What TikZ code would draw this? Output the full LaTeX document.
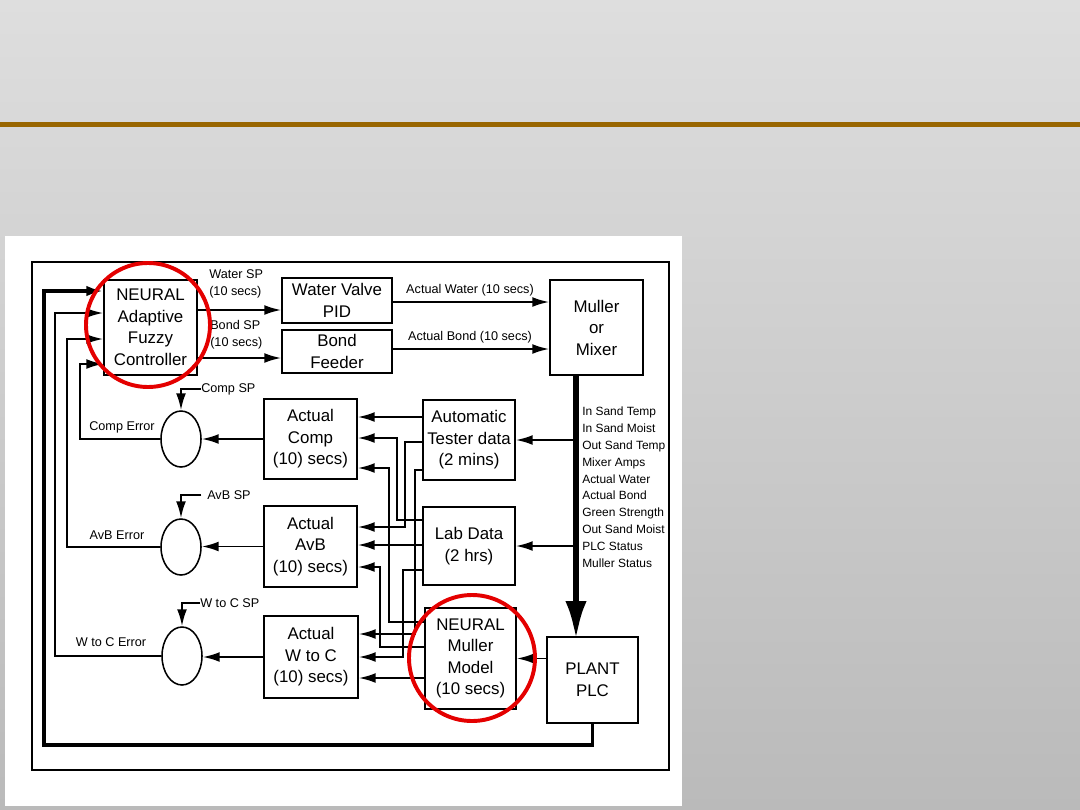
\documentclass[tikz,border=0pt]{standalone}
\usepackage{fontspec}
\setmainfont{Liberation Sans}
\usetikzlibrary{arrows.meta,shapes.geometric}

\definecolor{slidetop}{RGB}{222,222,222}
\definecolor{slidebot}{RGB}{186,186,186}
\definecolor{rulebrown}{RGB}{153,102,0}
\definecolor{ringred}{RGB}{228,0,0}

\begin{document}
\begin{tikzpicture}[x={(0.025cm,0cm)}, y={(0cm,-0.025cm)},
  blk/.style={draw, line width=1.1pt, align=center, inner sep=0pt,
    font=\fontsize{12}{15.3}\selectfont},
  sz/.style 2 args={minimum width=#1*\pxu, minimum height=#2*\pxu},
  sumpt/.style={draw, ellipse, line width=1.1pt, inner sep=0pt},
  lbl/.style={inner sep=0pt, font=\fontsize{9}{12}\selectfont},
  sig/.style={inner sep=0pt, align=left, font=\fontsize{8.5}{11.95}\selectfont},
  arr/.style={line width=1.4pt, -{Latex[length=12pt,width=7pt]}},
  fb/.style={line width=2.8pt, -{Latex[length=12pt,width=7.5pt]}},
  ring/.style={draw=ringred, line width=2.8pt}]

% Sizes in slide pixels
\def\pxu{0.025cm}

\useasboundingbox (0,0) rectangle (1080,810);

% Slide
\shade[top color=slidetop, bottom color=slidebot] (0,0) rectangle (1080,810);
\fill[rulebrown] (0,122) rectangle (1080,127);
\fill[white] (5,236) rectangle (682,806);
\draw[line width=1.1pt] (32,262) rectangle (669,770);

% Blocks
\node[blk, sz={93}{95}] (ctrl) at (150.5,327.5) {NEURAL\\Adaptive\\Fuzzy\\Controller};
\node[blk, sz={110}{45}] (valve) at (337,300.5) {Water Valve\\PID};
\node[blk, sz={110}{43}] (feeder) at (337,351.5) {Bond\\Feeder};
\node[blk, sz={93}{95}] (mixer) at (596.5,327.5) {Muller\\or\\Mixer};
\node[blk, sz={91}{86}] (plc) at (592.5,680) {PLANT\\PLC};
\node[blk, sz={92}{80}] (tester) at (469,440) {Automatic\\Tester data\\(2 mins)};
\node[blk, sz={92}{78}] (lab) at (469,546) {Lab Data\\(2 hrs)};
\node[blk, sz={91}{101}] (model) at (470.5,658.5) {NEURAL\\Muller\\Model\\(10 secs)};
\node[blk, sz={93}{80}] (comp) at (310.5,439) {Actual\\Comp\\(10) secs)};
\node[blk, sz={93}{81}] (avb) at (310.5,546.5) {Actual\\AvB\\(10) secs)};
\node[blk, sz={94}{82}] (wtoc) at (311,657) {Actual\\W to C\\(10) secs)};

% Comparators
\node[sumpt, sz={40}{56}] (ecomp) at (181,439) {};
\node[sumpt, sz={40}{56}] (eavb) at (181,547) {};
\node[sumpt, sz={40}{58}] (ewtoc) at (182,656) {};

% Set points
\draw[arr] (ctrl.east |- 0,310) -- (valve.west |- 0,310);
\draw[arr] (ctrl.east |- 0,358) -- (feeder.west |- 0,358);
\node[lbl, anchor=west, align=left] (wsp) at (209,284) {Water SP\\(10 secs)};
\node[lbl, anchor=west, align=left] (bsp) at (210,335) {Bond SP\\(10 secs)};

% Into the mixer
\draw[arr] (valve.east |- 0,302) -- (mixer.west |- 0,302);
\draw[arr] (feeder.east |- 0,349) -- (mixer.west |- 0,349);
\node[lbl] (awater) at (470,290) {Actual Water (10 secs)};
\node[lbl] (abond) at (470,337) {Actual Bond (10 secs)};

% Plant data bus
\coordinate (bus) at (576,0);
\draw[line width=4.5pt, -{Latex[length=28pt,width=15pt]}] (mixer.south -| bus) -- ([yshift=-3pt]plc.north -| bus);
\draw[arr] (tester.east -| bus) -- (tester.east);
\draw[arr] (lab.east -| bus) -- (lab.east);
\draw[arr] (plc.west |- model.east) -- (model.east);
\node[sig, anchor=north west] (signals) at (582,407)
  {In Sand Temp\\In Sand Moist\\Out Sand Temp\\Mixer Amps\\Actual Water\\
   Actual Bond\\Green Strength\\Out Sand Moist\\PLC Status\\Muller Status};

% Measured values to the actual blocks
\foreach \s/\d/\ya/\xm/\yb in {tester/comp/417/400/417, tester/avb/442/405/527,
    tester/wtoc/470/415/634, lab/comp/520/397/438, lab/avb/545/400/545,
    lab/wtoc/570/403/657, model/comp/622/389/468, model/avb/647/380/567,
    model/wtoc/678/400/678}
  \draw[arr] (\s.west |- 0,\ya) -| (\xm,\yb) -- (\d.east |- 0,\yb);

% Actual to comparators
\foreach \a/\e in {comp/ecomp, avb/eavb, wtoc/ewtoc}
  \draw[arr] (\a.west) -- (\a.west -| \e.east);

\node[lbl, anchor=west] (spcomp) at (201,389) {Comp SP};
\node[lbl, anchor=west] (spavb) at (207,495) {AvB SP};
\node[lbl, anchor=west] (spwtoc) at (200,603) {W to C SP};
\draw[arr] (spcomp.west) -| (ecomp.north);
\draw[arr] ([xshift=-4pt]spavb.west) -| (eavb.north);
\draw[arr] (spwtoc.west) -| (ewtoc.north);

% Errors back to the controller
\foreach \e/\xx/\yy in {ecomp/80/364, eavb/67/339, ewtoc/55/313}
  \draw[arr] (\e.west) -| (\xx,\yy) -- (ctrl.west |- 0,\yy);
\node[lbl] at (122,427) {Comp Error};
\node[lbl] at (117,535) {AvB Error};
\node[lbl] at (111,642) {W to C Error};

% PLC feedback
\draw[fb] (plc.south) |- (44,745) |- (ctrl.west |- 0,291);

% Highlights
\draw[ring] (148,325) circle[radius=62];
\draw[ring] (472,658) circle[radius=63];

\end{tikzpicture}
\end{document}
